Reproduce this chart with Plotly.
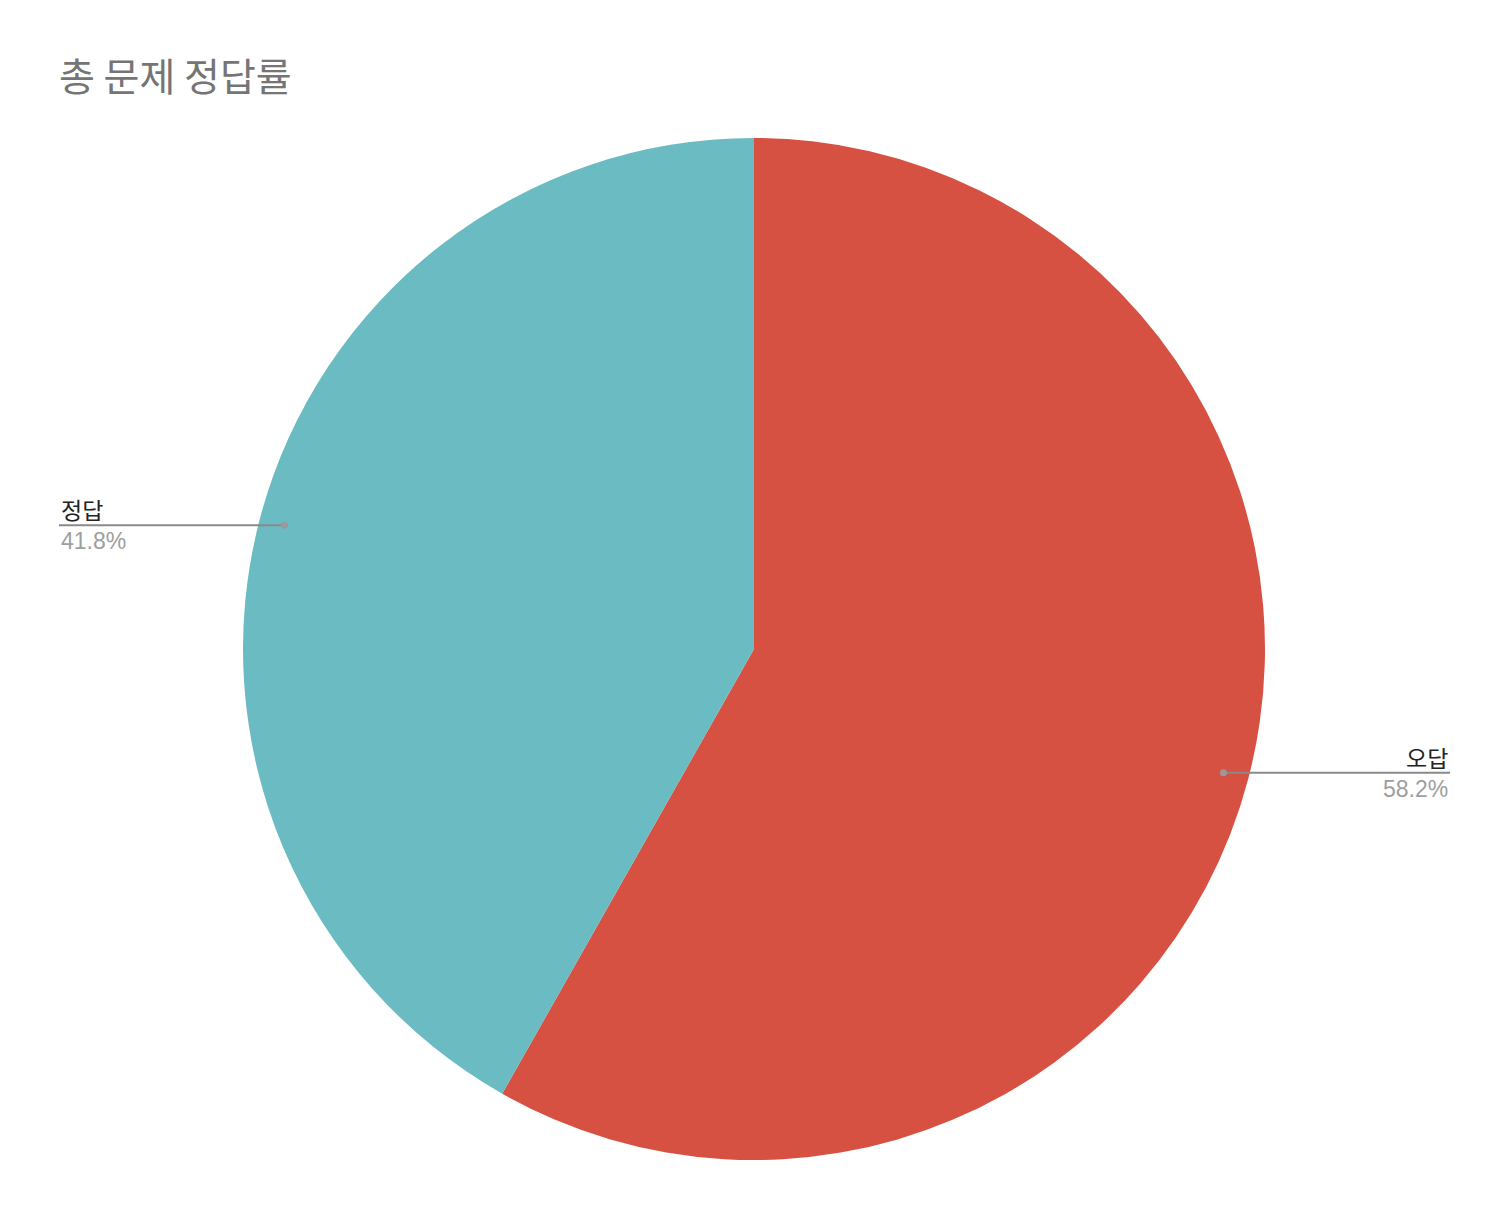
import numpy as np
import plotly.graph_objects as go

# data
labels = ['오답', '정답']
values = [58.2, 41.8]
colors = ['#D75142', '#6ABBC2']
title_str = '총 문제 정답률'

W, H = 1508, 1216
OFF = 8  # page body margin in the browser
# pie placement (pixels, reference coords)
cx, cy, r = 754 - OFF, 649 - OFF, 511
dom_y = [(H - (cy + r)) / H, (H - (cy - r)) / H]
dom_x = [(cx - r) / W, (cx + r) / W]

fig = go.Figure(go.Pie(
    labels=labels, values=values, sort=False, direction='clockwise', rotation=0,
    marker=dict(colors=colors, line=dict(width=0)),
    textinfo='none', hoverinfo='label+percent', showlegend=False,
    domain=dict(x=dom_x, y=dom_y),
))

# leader lines + labels, placed from slice mid angles
font_fam = 'Liberation Sans, Noto Sans CJK KR, Arial, sans-serif'
shapes, annots = [], []
tot = sum(values)
cum = 0
for lab, v in zip(labels, values):
    mid = (cum + v / 2) / tot * 2 * np.pi   # clockwise from 12 o'clock
    cum += v
    px = cx + np.sin(mid) * r * 0.95
    py = cy - np.cos(mid) * r * 0.95
    if np.sin(mid) >= 0:
        ex, anc = 1450 - OFF, 'right'
    else:
        ex, anc = 59 - OFF, 'left'
    shapes.append(dict(type='line', xref='paper', yref='paper',
                       x0=px / W, x1=ex / W, y0=1 - py / H, y1=1 - py / H,
                       line=dict(color='#8a8a8a', width=2)))
    shapes.append(dict(type='circle', xref='paper', yref='paper',
                       x0=(px - 3.5) / W, x1=(px + 3.5) / W,
                       y0=1 - (py + 3.5) / H, y1=1 - (py - 3.5) / H,
                       fillcolor='#9a9a9a', line=dict(width=0)))
    annots.append(dict(x=ex / W, y=1 - (py + 1) / H, xref='paper', yref='paper',
                       text=lab, showarrow=False, xanchor=anc, yanchor='bottom',
                       font=dict(family=font_fam, size=23, color='#222222')))
    annots.append(dict(x=ex / W, y=1 - (py + 1) / H, xref='paper', yref='paper',
                       text='%.1f%%' % (v / tot * 100), showarrow=False, xanchor=anc, yanchor='top',
                       font=dict(family=font_fam, size=23, color='#9e9e9e')))

fig.update_layout(
    width=W, height=H,
    margin=dict(l=0, r=0, t=0, b=0),
    paper_bgcolor='white', plot_bgcolor='white',
    title=dict(text=title_str, x=(59 - OFF) / W, xanchor='left', y=1 - 56 / H, yanchor='top',
               font=dict(family='Noto Sans CJK KR, sans-serif', size=39, color='#757575')),
    shapes=shapes, annotations=annots,
)

fig.write_html("out.html")
